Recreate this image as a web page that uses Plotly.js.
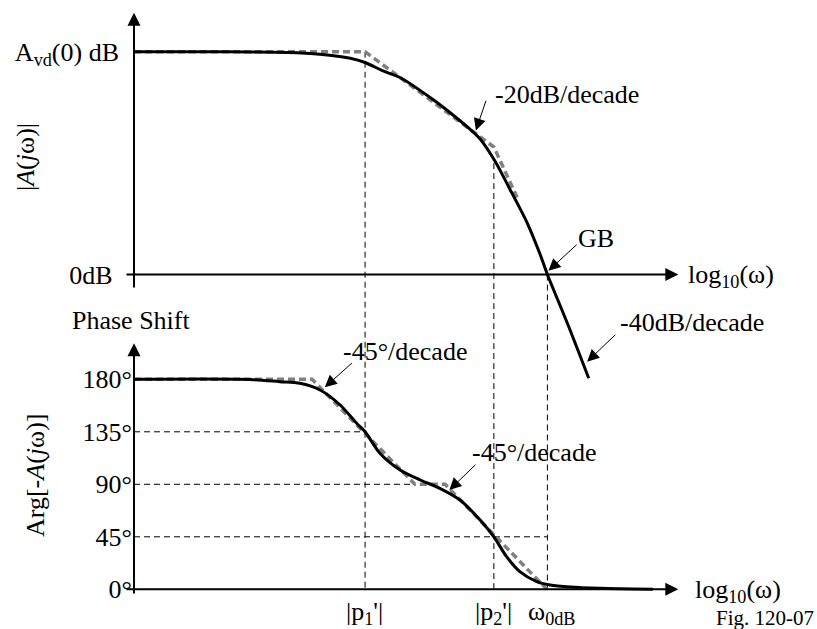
<!DOCTYPE html>
<html><head><meta charset="utf-8">
<script src="https://cdn.plot.ly/plotly-3.0.1.min.js"></script>
<style>html,body{margin:0;padding:0;background:#fff}#chart{width:817px;height:629px}</style>
</head><body><div id="chart"></div>
<script>
// ---- data (x = log10(omega) in decades from the vertical axis) ----
const magX     = [0, 1.62, 2.89, 3.51, 4.08, 4.36, 4.70, 5.02, 5.64, 5.96, 6.28, 6.53, 6.81, 7.09, 7.42, 7.66, 7.80, 8.19, 8.58];
const magY     = [100, 99.96, 99.64, 98.83, 97.04, 95.15, 91.34, 88.42, 78.55, 72.71, 66.43, 60.82, 50.94, 38.38, 23.11, 9.20, 0, -22.67, -46.59];
const magAsymX = [0, 4.36, 6.79, 7.25];
const magAsymY = [100, 100, 57.23, 33.44];
const phX      = [0, 2.19, 2.75, 3.13, 3.51, 3.89, 4.20, 4.36, 4.64, 5.02, 5.40, 5.77, 6.15, 6.53, 6.79, 7.03, 7.28, 7.60, 7.85, 8.23, 8.79, 9.79];
const phY      = [180, 179.83, 177.94, 176.57, 170.82, 157.97, 142.28, 135.0, 116.57, 102.25, 93.68, 86.57, 76.54, 59.40, 45.0, 27.94, 15.09, 6.51, 3.69, 1.97, 0.86, 0];
const phAsymX  = [0, 3.36, 5.30, 5.87, 7.79];
const phAsymY  = [180, 180, 90, 90, 0];
const p1 = 4.36, p2 = 6.79, w0dB = 7.80;
const AvdDB = 100;
const magTickVals = [100, 0];
const magTickText = ['A<sub>vd</sub>(0) dB', '0dB&nbsp;'];
const phTickVals = [180, 135, 90, 45, 0];
const phTickText = ['180°', '135°', '90°', '45°', '0°'];

// ---- layout geometry ----
const W = 817, H = 629;
const FONT = '"Liberation Serif", "Times New Roman", Times, serif';
const xDom = [134 / W, 810 / W], xRng = [0, 676 / 53];
const yDom = [1 - 385 / H, 1 - 5 / H], yRng = [(274.5 - 385) / 2.228, (274.5 - 5) / 2.228];
const y2Dom = [1 - 600 / H, 1 - 335 / H], y2Rng = [(589.3 - 600) / 1.1667, (589.3 - 335) / 1.1667];
function magPaper(v) { return yDom[0] + (v - yRng[0]) / (yRng[1] - yRng[0]) * (yDom[1] - yDom[0]); }
function phPaper(v) { return y2Dom[0] + (v - y2Rng[0]) / (y2Rng[1] - y2Rng[0]) * (y2Dom[1] - y2Dom[0]); }
function P(px, py) { return {x: px / W, y: 1 - py / H, xref: 'paper', yref: 'paper'}; }

const grey = {color: '#808080', width: 3.5, dash: '7px,4px'};
const traces = [
  {x: magAsymX, y: magAsymY, xaxis: 'x', yaxis: 'y', mode: 'lines', line: grey, hoverinfo: 'skip'},
  {x: magX, y: magY, xaxis: 'x', yaxis: 'y', mode: 'lines', line: {color: '#000', width: 3, shape: 'spline', smoothing: 0.8}, hoverinfo: 'skip'},
  {x: phAsymX, y: phAsymY, xaxis: 'x2', yaxis: 'y2', mode: 'lines', line: grey, hoverinfo: 'skip'},
  {x: phX, y: phY, xaxis: 'x2', yaxis: 'y2', mode: 'lines', line: {color: '#000', width: 3, shape: 'spline', smoothing: 0.8}, hoverinfo: 'skip'}
];

const guide = {color: '#000', width: 1, dash: '6px,4px'};
const shapes = [
  {type: 'line', xref: 'x', yref: 'paper', x0: p1, x1: p1, y0: magPaper(AvdDB), y1: phPaper(0), line: guide, layer: 'below'},
  {type: 'line', xref: 'x', yref: 'paper', x0: p2, x1: p2, y0: magPaper(50), y1: phPaper(0), line: guide, layer: 'below'},
  {type: 'line', xref: 'x', yref: 'paper', x0: w0dB, x1: w0dB, y0: magPaper(0), y1: phPaper(0), line: guide, layer: 'below'},
  {type: 'line', xref: 'x2', yref: 'y2', x0: 0, x1: p1, y0: 135, y1: 135, line: guide, layer: 'below'},
  {type: 'line', xref: 'x2', yref: 'y2', x0: 0, x1: 5.26, y0: 90, y1: 90, line: guide, layer: 'below'},
  {type: 'line', xref: 'x2', yref: 'y2', x0: 0, x1: w0dB, y0: 45, y1: 45, line: guide, layer: 'below'}
];

function axisArrow(xr, yr, x, y, ax, ay) {
  return {xref: xr, yref: yr, axref: xr, ayref: yr, x: x, y: y, ax: ax, ay: ay, text: '', showarrow: true,
          arrowhead: 2, arrowsize: 1.3, arrowwidth: 2, arrowcolor: '#000', standoff: 0, startstandoff: 0};
}
function ptr(xr, yr, x, y, ax, ay) {
  return {xref: xr, yref: yr, axref: xr, ayref: yr, x: x, y: y, ax: ax, ay: ay, text: '', showarrow: true,
          arrowhead: 2, arrowsize: 2.4, arrowwidth: 1, arrowcolor: '#000', standoff: 0, startstandoff: 0};
}
function txt(px, py, t, opts) {
  return Object.assign(P(px, py), {text: t, showarrow: false, xanchor: 'left', yanchor: 'middle',
          font: {family: FONT, size: 26, color: '#000'}}, opts || {});
}

const annotations = [
  // axes
  axisArrow('x', 'y', 0, (274.5 - 12.7) / 2.228, 0, (274.5 - 289) / 2.228),
  axisArrow('x', 'y', (678.3 - 134) / 53, 0, (125 - 134) / 53, 0),
  axisArrow('x2', 'y2', 0, (589.3 - 343.3) / 1.1667, 0, (589.3 - 595) / 1.1667),
  axisArrow('x2', 'y2', (678.3 - 134) / 53, 0, (125 - 134) / 53, 0),
  // pointers
  ptr('x', 'y', 6.45, 64.63, 6.65, 78.64),
  ptr('x', 'y', 7.82, 1.71, 8.38, 14.0),
  ptr('x', 'y', 8.55, -39.14, 9.11, -26.39),
  ptr('x2', 'y2', 3.60, 173.14, 4.14, 195.08),
  ptr('x2', 'y2', 5.95, 85.11, 6.47, 108.0),
  // texts
  txt(493, 95, '-20dB/decade'),
  txt(576, 238, 'GB'),
  txt(618, 322, '-40dB/decade'),
  txt(341, 351, '-45°/decade'),
  txt(470, 452, '-45°/decade'),
  txt(131, 320, 'Phase Shift', {xanchor: 'center'}),
  txt(686, 276, 'log<sub>10</sub>(ω)'),
  txt(693, 591, 'log<sub>10</sub>(ω)'),
  txt(364, 613, '|p<sub>1</sub>\'|', {xanchor: 'center'}),
  txt(494, 613, '|p<sub>2</sub>\'|', {xanchor: 'center'}),
  txt(526, 613, 'ω<sub>0dB</sub>'),
  txt(816, 618, 'Fig. 120-07', {xanchor: 'right', font: {family: FONT, size: 21, color: '#000'}}),
  txt(26, 157, '|<i>A</i>(<i>j</i>ω)|', {xanchor: 'center', textangle: -90}),
  txt(35, 475, 'Arg[-<i>A</i>(<i>j</i>ω)]', {xanchor: 'center', textangle: -90})
];

const hiddenX = {domain: xDom, range: xRng, visible: false, fixedrange: true};
const layout = {
  width: W, height: H, margin: {l: 0, r: 0, t: 0, b: 0}, showlegend: false,
  paper_bgcolor: '#fff', plot_bgcolor: 'rgba(0,0,0,0)',
  font: {family: FONT, size: 26, color: '#000'},
  xaxis: Object.assign({anchor: 'y'}, hiddenX),
  xaxis2: Object.assign({anchor: 'y2'}, hiddenX),
  yaxis: {domain: yDom, range: yRng, anchor: 'x', showgrid: false, zeroline: false, showline: false, ticks: '',
          tickmode: 'array', tickvals: magTickVals, ticktext: magTickText, ticklabelstandoff: 14,
          tickfont: {family: FONT, size: 26, color: '#000'}, automargin: false, fixedrange: true},
  yaxis2: {domain: y2Dom, range: y2Rng, anchor: 'x2', showgrid: false, zeroline: false, showline: false, ticks: '',
          tickmode: 'array', tickvals: phTickVals, ticktext: phTickText, ticklabelstandoff: 1,
          tickfont: {family: FONT, size: 26, color: '#000'}, automargin: false, fixedrange: true},
  shapes: shapes, annotations: annotations
};
Plotly.newPlot('chart', traces, layout, {staticPlot: true, displayModeBar: false});
</script></body></html>
